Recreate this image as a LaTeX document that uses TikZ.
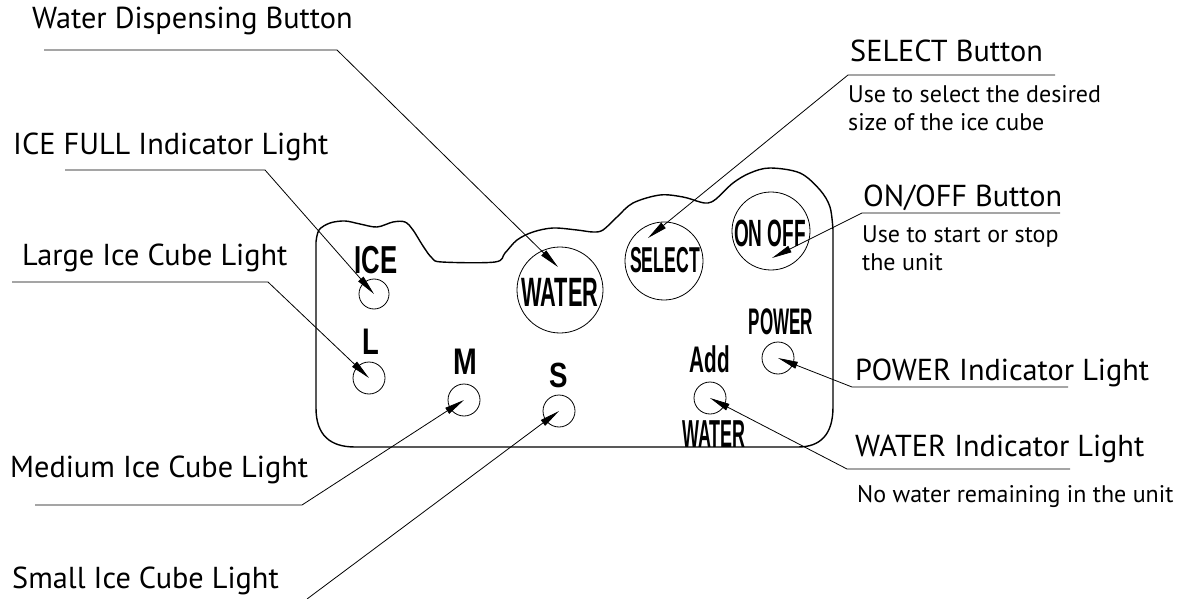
\documentclass[tikz,border=0pt]{standalone}
\usepackage{fontspec}
\usepackage{graphicx}
\setmainfont{PT Sans}
\newfontfamily\panelfont{Liberation Sans}
\usetikzlibrary{arrows.meta}
\newcommand{\pnl}[3]{\scalebox{#1}[1]{\fontsize{#2}{#2}\selectfont\panelfont\bfseries #3}}
\tikzset{
  title/.style={anchor=base west,inner sep=0pt,font=\fontsize{30.3}{32}\selectfont},
  desc/.style={anchor=base west,inner sep=0pt,font=\fontsize{24}{28}\selectfont},
  leader/.style={line width=0.8pt,-{Triangle[length=20pt,width=7pt]}},
  lamp/.style={circle,draw,line width=0.8pt,inner sep=0pt,minimum size=#1},
  ptext/.style={inner sep=0pt},
  outline/.style={line width=1.4pt}
}
\begin{document}
\begin{tikzpicture}[x=1pt,y=-1pt]
\useasboundingbox (0,0) rectangle (1189,599);
% panel outline
\draw[outline] plot[smooth,tension=0.55] coordinates {(316,242) (319,230) (330,223) (345,221) (360,224) (377,227) (393,222) (405,222) (413,230) (423,246) (432,258) (442,262) (495,262) (505,253) (517,240) (533,232) (553,228) (577,230) (593,232) (603,230) (617,217) (633,203) (660,195) (683,197) (700,202) (708,203) (716,199) (733,183) (750,173) (770,168) (800,173) (820,190) (830,207) (833,230)}
  -- (833,407) .. controls (833,435) and (820,447) .. (798,447)
  -- (355,447) .. controls (330,447) and (316,435) .. (316,408) -- cycle;
% buttons
\node[lamp=86pt] (bwater) at (560,290) {};
\node[lamp=78pt] (bselect) at (664,261) {};
\node[lamp=78pt] (bonoff) at (771,231) {};
\node[ptext] (twater) at (560,292) {\pnl{0.53}{41}{WATER}};
\node[ptext] (tselect) at (665,260) {\pnl{0.49}{36}{SELECT}};
\node[ptext] (tonoff) at (770,233) {\pnl{0.5}{38}{ON OFF}};
% lamps
\node[lamp=30pt] (lice) at (374,294) {};
\node[lamp=32pt] (ll) at (369,378) {};
\node[lamp=32pt] (lm) at (464,400) {};
\node[lamp=32pt] (ls) at (559,411) {};
\node[lamp=32pt] (lpower) at (778,358) {};
\node[lamp=32pt] (ladd) at (710,398) {};
\node[ptext] (tice) at (376,260) {\pnl{0.66}{39}{ICE}};
\node[ptext] (tl) at (371,342) {\pnl{0.74}{37}{L}};
\node[ptext] (tm) at (465,362) {\pnl{0.77}{37}{M}};
\node[ptext] (ts) at (559,375) {\pnl{0.79}{35}{S}};
\node[ptext] (tpower) at (781,322) {\pnl{0.46}{37}{POWER}};
\node[ptext] (tadd) at (710,359) {\pnl{0.56}{37}{Add}};
\node[ptext] (tadw) at (714,434) {\pnl{0.46}{39}{WATER}};
% labels
\node[title] (lab1) at (32,29) {Water Dispensing Button};
\node[title] (lab2) at (13,154) {ICE FULL Indicator Light};
\node[title] (lab3) at (22,265) {Large Ice Cube Light};
\node[title] (lab4) at (10,477) {Medium Ice Cube Light};
\node[title] (lab5) at (12,588) {Small Ice Cube Light};
\node[title] (lab6) at (850,62) {SELECT Button};
\node[desc] (lab6a) at (848,103) {Use to select the desired};
\node[desc] (lab6b) at (848,131) {size of the ice cube};
\node[title] (lab7) at (863,207) {ON/OFF Button};
\node[desc] (lab7a) at (862,242) {Use to start or stop};
\node[desc] (lab7b) at (862,270) {the unit};
\node[title] (lab8) at (855,380) {POWER Indicator Light};
\node[title] (lab9) at (855,456) {WATER Indicator Light};
\node[desc] (lab9a) at (857,502) {No water remaining in the unit};
% leader coordinates
\coordinate (u1a) at (44,50); \coordinate (u1b) at (337,50); \coordinate (tipw) at (558,267);
\coordinate (u2a) at (65,170); \coordinate (u2b) at (265,170);
\coordinate (u3a) at (12,282); \coordinate (u3b) at (268,282);
\coordinate (u4a) at (35,505); \coordinate (u4b) at (302,505);
\coordinate (u5b) at (307,599);
\coordinate (u6a) at (1055,75); \coordinate (u6b) at (848,75); \coordinate (tips) at (648,238);
\coordinate (u7a) at (1060,213); \coordinate (u7b) at (862,213); \coordinate (tipo) at (772,258);
\coordinate (u8a) at (1068,387); \coordinate (u8b) at (852,387);
\coordinate (u9a) at (1070,469); \coordinate (u9b) at (847,469);
% leaders
\draw[leader] (u1a) -- (u1b) -- (tipw);
\draw[leader] (u2a) -- (u2b) -- (lice.center);
\draw[leader] (u3a) -- (u3b) -- (ll.center);
\draw[leader] (u4a) -- (u4b) -- (lm.center);
\draw[leader] (u5b) -- (ls.center);
\draw[leader] (u6a) -- (u6b) -- (tips);
\draw[leader] (u7a) -- (u7b) -- (tipo);
\draw[leader] (u8a) -- (u8b) -- (lpower.center);
\draw[leader] (u9a) -- (u9b) -- (ladd.center);
\end{tikzpicture}
\end{document}
